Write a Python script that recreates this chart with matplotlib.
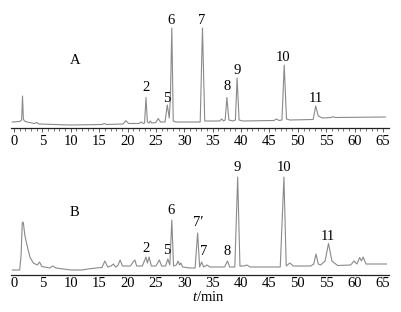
import numpy as np
import matplotlib.pyplot as plt

plt.rcParams['font.family'] = ['Liberation Serif', 'DejaVu Serif']
plt.rcParams['mathtext.fontset'] = 'custom'
plt.rcParams['mathtext.it'] = 'Liberation Serif:italic'
plt.rcParams['mathtext.rm'] = 'Liberation Serif'

# chromatogram A (reference) - vertices
trace_a_t = [-0.3, 1.0, 1.35, 1.5, 1.65, 1.85, 2.3, 3.6, 4.0, 4.4, 10.0, 15.5, 15.9, 16.3,
             19.2, 19.7, 20.2, 22.0, 22.4, 22.8, 23.0, 23.25, 23.5, 23.8, 24.0, 24.3, 25.0,
             25.4, 25.8, 26.6, 27.0, 27.35, 27.55, 27.8, 28.05, 28.5, 32.8, 33.2, 33.6,
             36.2, 36.6, 36.9, 37.2, 37.5, 37.85, 38.6, 39.0, 39.3, 39.65, 40.3, 45.8, 46.2,
             46.7, 47.2, 47.6, 48.0, 48.6, 52.7, 53.15, 53.6, 54.3, 55.8, 56.2, 56.6, 65.4]
trace_a_h = [6, 6.5, 8, 32, 9, 7, 6, 4.5, 5.5, 4, 3, 3.5, 4.5, 3.5,
             4, 7.3, 4.5, 4.5, 6, 4.5, 5, 30.5, 6, 5, 7, 5, 5.5,
             9.5, 6, 6, 23, 10, 30, 100, 7, 6, 6, 100, 7,
             7, 9, 7, 8, 30.5, 8, 7, 8, 50, 8, 7, 7.5, 9,
             7.5, 8, 63, 9, 8, 8.5, 22, 12, 10, 10.5, 11.3, 10.5, 11]

# chromatogram B (sample)
trace_b_t = [-0.3, 1.0, 1.25, 1.45, 1.55, 1.65, 1.9, 2.2, 2.8, 3.4, 4.1, 4.5, 4.9, 5.4,
             6.3, 6.8, 7.4, 10.0, 12.0, 13.0, 14.5, 15.5, 16.0, 16.5, 17.1, 17.5, 17.9,
             18.3, 18.7, 19.1, 20.5, 21.0, 21.3, 21.6, 22.6, 23.25, 23.5, 23.8, 24.2, 25.0,
             25.6, 26.0, 26.7, 27.1, 27.45, 27.8, 28.1, 28.6, 28.9, 29.15, 29.4, 29.7, 31.0,
             31.9, 32.35, 32.7, 33.05, 33.4, 34.0, 34.5, 37.1, 37.6, 38.0, 38.9, 39.4, 39.8,
             40.5, 41.0, 41.6, 46.9, 47.55, 47.95, 48.6, 49.2, 52.3, 52.8, 53.2, 53.6, 54.0,
             54.8, 55.4, 56.0, 57.0, 59.3, 59.9, 60.4, 60.9, 61.2, 61.5, 62.0, 65.6]
trace_b_h = [5, 5, 20, 52, 53, 52, 40, 32, 18, 12, 10, 13, 8.5, 8,
             7, 9, 7, 5, 5, 6, 7, 7.5, 14, 8, 9, 11, 8,
             9.5, 15, 9, 9, 13, 15, 9, 9, 18, 12, 18, 9, 9,
             15, 9, 9, 16, 10, 55, 9, 10, 14, 10, 12, 8, 7,
             7, 42, 8, 13, 8, 10, 8, 8, 14, 8, 8, 98, 9,
             9, 10, 8, 8, 98, 9, 12, 9, 9, 11, 21, 11, 10,
             14, 31.5, 14, 9.5, 10, 14, 11, 17.5, 14, 18, 11, 11]

# peak labels (text, t, height)
labels_a = ['2', '5', '6', '7', '8', '9', '10', '11']
label_a_t = [23.2, 26.9, 27.65, 33.1, 37.6, 39.4, 47.45, 53.1]
label_a_h = [40.7, 29.7, 108, 108, 42, 58, 70.7, 29.7]

labels_b = ['2', '5', '6', '7\u2032', '7', '8', '9', '10', '11']
label_b_t = [23.2, 26.9, 27.65, 32.5, 33.35, 37.6, 39.4, 47.6, 55.25]
label_b_h = [26, 24.3, 64.3, 52.7, 23.3, 23.3, 107.7, 107.7, 39]

ticks = [0, 5, 10, 15, 20, 25, 30, 35, 40, 45, 50, 55, 60, 65]

W, H = 402, 312
fig = plt.figure(figsize=(W / 100, H / 100), dpi=100)

px_per_min = 369 / 65
x0 = 14
xl = ((11 - x0) / px_per_min, (389 - x0) / px_per_min)

ax1 = fig.add_axes([11 / W, 1 - 128 / H, 378 / W, 108 / H])
ax2 = fig.add_axes([11 / W, 1 - 275 / H, 378 / W, 108 / H])

line_col = '#8a8a8a'
for ax, tt, hh in [(ax1, trace_a_t, trace_a_h), (ax2, trace_b_t, trace_b_h)]:
    ax.plot(tt, hh, color=line_col, lw=0.8)
    ax.set_xlim(*xl)
    ax.set_ylim(0, 108)
    for s in ['top', 'right', 'left']:
        ax.spines[s].set_visible(False)
    ax.spines['bottom'].set_linewidth(0.9)
    ax.spines['bottom'].set_color('#222222')
    ax.set_yticks([])
    ax.set_xticks(ticks)
    ax.set_xticklabels([str(v) for v in ticks], fontsize=10.5)
    ax.patch.set_alpha(0)

ax1.set_xticks(np.arange(0, 66, 1), minor=True)
ax1.tick_params(axis='x', which='major', length=3, width=0.6, pad=2, color='#444444')
ax1.tick_params(axis='x', which='minor', length=2, width=0.5, color='#444444')
ax2.tick_params(axis='x', which='major', length=0, pad=1.5)

for s, t, h in zip(labels_a, label_a_t, label_a_h):
    ax1.text(t, h, s, fontsize=10.5, ha='center', va='center', clip_on=False)
for s, t, h in zip(labels_b, label_b_t, label_b_h):
    ax2.text(t, h, s, fontsize=10.5, ha='center', va='center', clip_on=False)

ax1.text(10.7, 68, 'A', fontsize=10.5, ha='center', va='center')
ax2.text(10.7, 63, 'B', fontsize=10.5, ha='center', va='center')

fig.text(208 / W, 1 - 297 / H, '$\\it{t}$/min', fontsize=10.5, ha='center', va='center')

fig.savefig('out.png', dpi=100)
